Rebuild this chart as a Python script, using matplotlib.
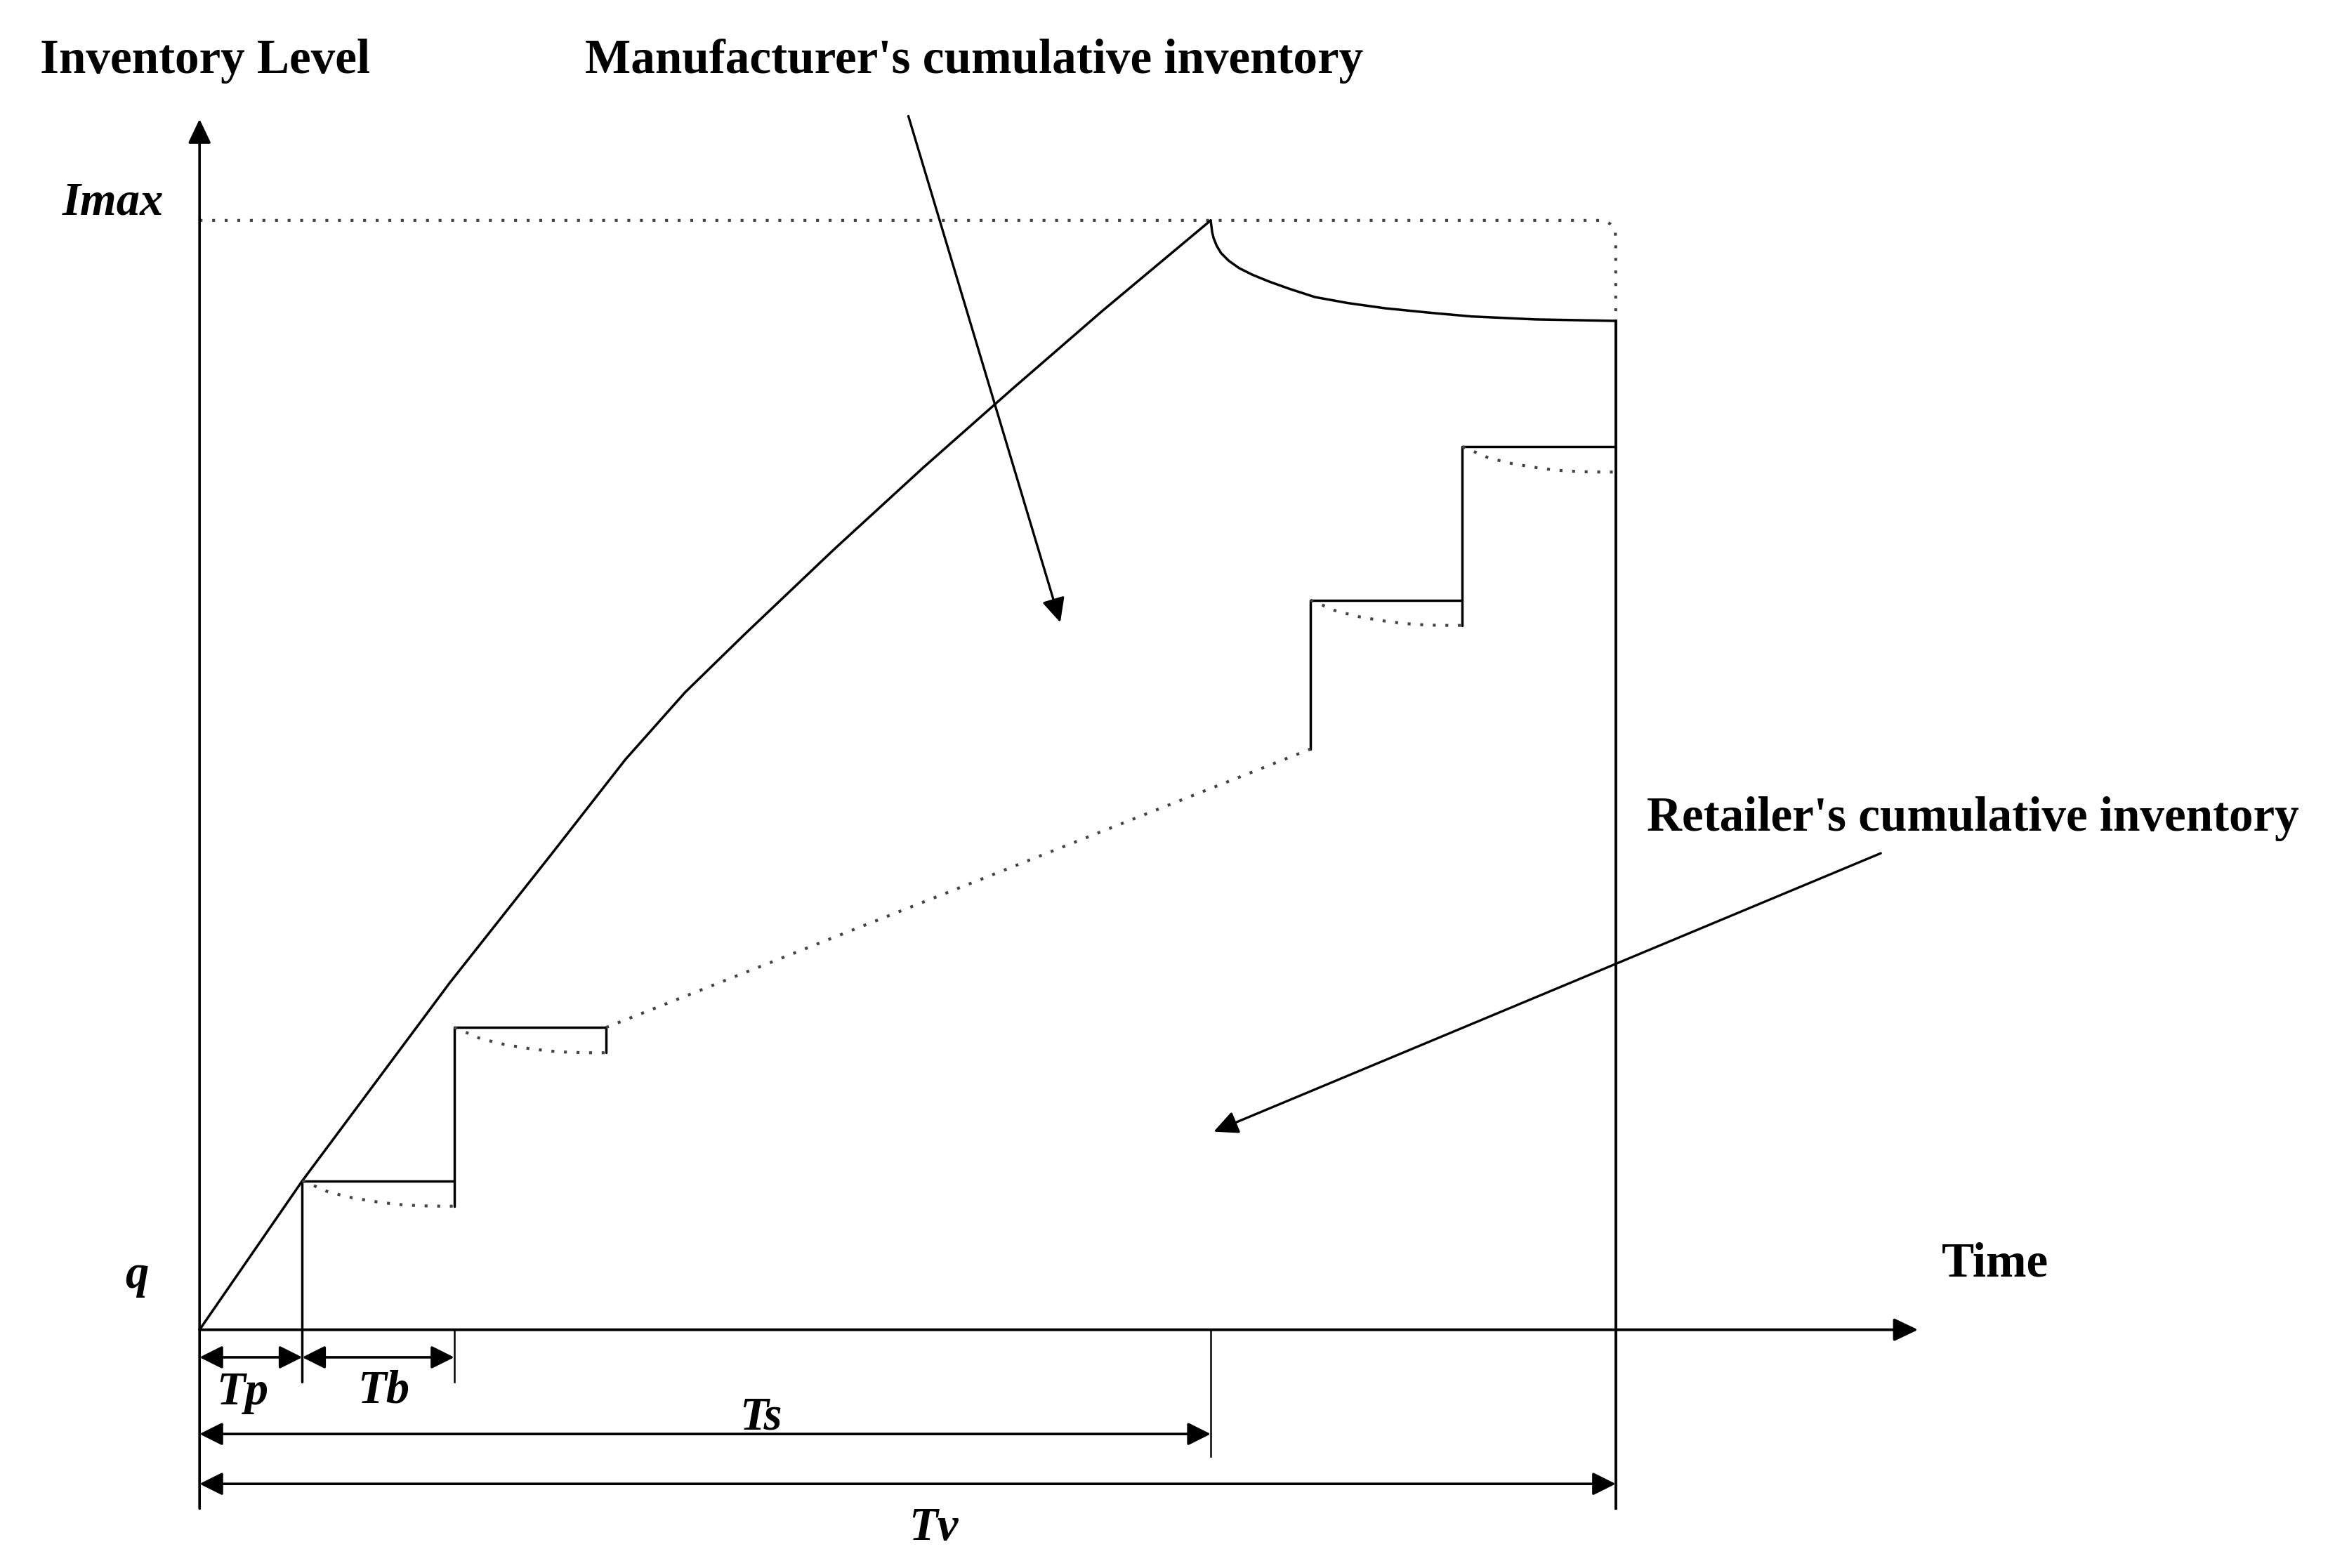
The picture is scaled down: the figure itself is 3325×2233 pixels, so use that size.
import numpy as np
import matplotlib.pyplot as plt
from matplotlib.path import Path
from matplotlib.patches import PathPatch

plt.rcParams['font.family'] = ['Liberation Serif', 'DejaVu Serif']

# key times and levels (arbitrary units)
Tp = 0.69
TbEnd = 1.71
Ts = 6.79
Tv = 9.51
Imax = 7.45

# manufacturer's cumulative inventory, build up then decay after Ts
manuT = [0, 0.69, 1.68, 2.36, 2.86, 3.26, 3.66, 4.26, 4.86, 5.46, 6.06, 6.79]
manuV = [0, 1.00, 2.33, 3.19, 3.83, 4.28, 4.67, 5.24, 5.79, 6.32, 6.84, 7.45]
decayT = [6.79, 6.80, 6.81, 6.83, 6.86, 6.91, 6.98, 7.07, 7.18, 7.32, 7.49, 7.71, 7.96, 8.26, 8.54, 8.97, 9.51]
decayV = [7.45, 7.37, 7.33, 7.28, 7.23, 7.18, 7.13, 7.085, 7.04, 6.99, 6.935, 6.895, 6.86, 6.83, 6.805, 6.785, 6.775]

# retailer's cumulative inventory (shipments)
stepT = [0.69, 1.71, 7.46, 8.48]
stepV = [1.00, 2.03, 4.90, 5.93]
riserBottom = [-0.35, 0.83, 3.90, 4.73]
stepW = 1.02
stepDrop = 0.17
useFracT = np.array([0, 0.08, 0.16, 0.24, 0.33, 0.41, 0.49, 0.57, 0.65, 0.73, 0.81, 0.91, 1.0])
useFracV = np.array([0, 0.20, 0.41, 0.54, 0.67, 0.75, 0.83, 0.89, 0.94, 0.97, 0.99, 1.0, 1.0])

solid = dict(color='k', lw=1.25, solid_joinstyle='round', solid_capstyle='round')
dotColour = '#444444'
dotted = dict(color=dotColour, lw=1.5, linestyle=(0, (1, 3.3)))
headStyle = '-|>,head_length=1.05,head_width=0.5'
dimStyle = '<|-|>,head_length=1.0,head_width=0.5'

fig = plt.figure(figsize=(16.625, 11.165), dpi=200)
ax = fig.add_axes([0, 0, 1, 1])
ax.set_xlim(-1.34, 14.34)
ax.set_ylim(-1.60, 8.93)
ax.axis('off')

# axes with arrow heads
ax.annotate('', xy=(0, 8.13), xytext=(0, -1.20),
            arrowprops=dict(arrowstyle=headStyle, color='k', lw=1.3, shrinkA=0, shrinkB=0, mutation_scale=10))
ax.annotate('', xy=(11.54, 0), xytext=(0, 0),
            arrowprops=dict(arrowstyle=headStyle, color='k', lw=1.4, shrinkA=0, shrinkB=0, mutation_scale=10))

# Imax dotted level with rounded corner down to Tv
r = 0.12
imaxPath = Path([(0, Imax), (Tv - r, Imax), (Tv, Imax), (Tv, Imax - r), (Tv, decayV[-1])],
                [Path.MOVETO, Path.LINETO, Path.CURVE3, Path.CURVE3, Path.LINETO])
ax.add_patch(PathPatch(imaxPath, fill=False, edgecolor=dotColour, lw=1.5, linestyle=(0, (1, 3.3))))

# manufacturer curve
ax.plot(manuT, manuV, **solid)
ax.plot(decayT, decayV, **solid)
ax.plot([Tv, Tv], [-1.20, decayV[-1]], color='k', lw=1.4)

# retailer staircase
for i in range(len(stepT)):
    t = stepT[i]
    v = stepV[i]
    ax.plot([t, t, t + stepW], [riserBottom[i], v, v], **solid)
    ax.plot(t + stepW * useFracT, v - stepDrop * useFracV, **dotted)
ax.plot([stepT[1] + stepW] * 2, [stepV[1] - stepDrop, stepV[1]], **solid)
ax.plot([stepT[1] + stepW, stepT[2]], [stepV[1], riserBottom[2]], **dotted)

# ticks under time axis
ax.plot([TbEnd, TbEnd], [0, -0.35], color='k', lw=0.9)
ax.plot([Ts, Ts], [0, -0.85], color='k', lw=0.9)
ax.plot([0, 0], [0, -1.20], color='k', lw=0.9)

# dimension arrows
dims = [(0, Tp, -0.185), (Tp, TbEnd, -0.185), (0, Ts, -0.70), (0, Tv, -1.035)]
for a, b, y in dims:
    ax.annotate('', xy=(b, y), xytext=(a, y),
                arrowprops=dict(arrowstyle=dimStyle, color='k', lw=1.3, shrinkA=0, shrinkB=0, mutation_scale=10))

lab = dict(fontsize=24, fontstyle='italic', fontweight='bold', va='baseline', ha='center')
ax.text(0.29, -0.50, 'Tp', **lab)
ax.text(1.235, -0.49, 'Tb', **lab)
ax.text(3.77, -0.667, 'Ts', **lab)
ax.text(4.93, -1.41, 'Tv', **lab)
ax.text(-0.58, 7.49, 'Imax', **lab)
ax.text(-0.42, 0.28, 'q', **lab)

head = dict(fontsize=24.9, fontweight='bold', va='baseline', ha='left')
ax.text(-1.07, 8.44, 'Inventory Level', **head)
ax.text(2.59, 8.44, "Manufacturer's cumulative inventory", **head)
ax.text(11.70, 0.36, 'Time', **head)
ax.text(9.72, 3.35, "Retailer's cumulative inventory", **head)

# pointers to the two areas
ax.annotate('', xy=(5.78, 4.75), xytext=(4.76, 8.15),
            arrowprops=dict(arrowstyle=headStyle, color='k', lw=1.2, shrinkA=0, shrinkB=0, mutation_scale=10))
ax.annotate('', xy=(6.81, 1.33), xytext=(11.29, 3.20),
            arrowprops=dict(arrowstyle=headStyle, color='k', lw=1.2, shrinkA=0, shrinkB=0, mutation_scale=10))

plt.savefig('out.png', dpi=200)
